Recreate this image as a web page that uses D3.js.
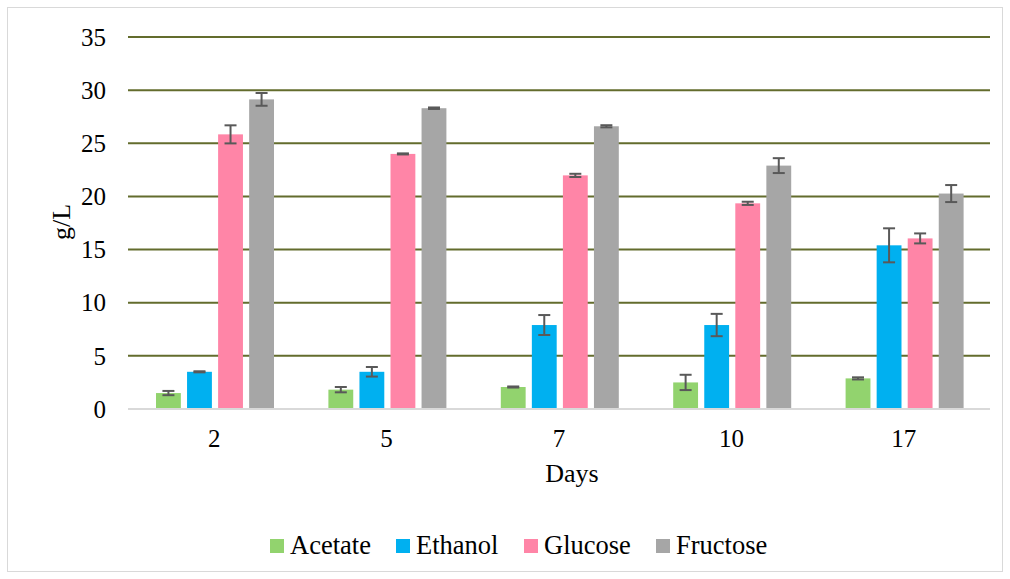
<!DOCTYPE html>
<html>
<head>
<meta charset="utf-8">
<script src="https://cdn.jsdelivr.net/npm/d3@7"></script>
<style>
  html, body { margin: 0; padding: 0; background: #fff; }
  svg { display: block; }
  text { font-family: "Liberation Serif", "Times New Roman", serif; fill: #000; }
</style>
</head>
<body>
<svg id="chart" width="1010" height="579"></svg>
<script>
const days = ["2", "5", "7", "10", "17"];
const seriesNames = ["Acetate", "Ethanol", "Glucose", "Fructose"];
const seriesColors = ["#92d36e", "#00b0f0", "#ff85a7", "#a6a6a6"];
const acetate  = [1.5, 1.82, 2.07, 2.5, 2.88];
const ethanol  = [3.5, 3.5, 7.9, 7.9, 15.4];
const glucose  = [25.84, 24.0, 21.98, 19.35, 16.05];
const fructose = [29.13, 28.3, 26.6, 22.9, 20.27];
const acetateErr  = [0.2, 0.25, 0.05, 0.72, 0.1];
const ethanolErr  = [0.05, 0.45, 0.94, 1.05, 1.6];
const glucoseErr  = [0.85, 0.05, 0.15, 0.15, 0.47];
const fructoseErr = [0.6, 0.07, 0.1, 0.7, 0.8];
const yTicks = [0, 5, 10, 15, 20, 25, 30, 35];

const values = [acetate, ethanol, glucose, fructose];
const errors = [acetateErr, ethanolErr, glucoseErr, fructoseErr];

const svg = d3.select("#chart");

// outer border
svg.append("rect").attr("x", 7.5).attr("y", 7.5).attr("width", 995).attr("height", 564)
  .attr("fill", "#fff").attr("stroke", "#d9d9d9").attr("stroke-width", 1);

const plotLeft = 128, plotRight = 990, plotTop = 37, plotBottom = 409;

const x0 = d3.scaleBand().domain(days).range([plotLeft, plotRight]).padding(0);
const x1 = d3.scaleBand().domain(seriesNames).range([28, 146]).paddingInner(0.2).paddingOuter(0);
const y = d3.scaleLinear().domain([0, 35]).range([plotBottom, plotTop]);

// gridlines
svg.append("g").selectAll("line").data(yTicks.filter(t => t > 0)).join("line")
  .attr("x1", plotLeft).attr("x2", plotRight)
  .attr("y1", d => y(d)).attr("y2", d => y(d))
  .attr("stroke", "#636c2d").attr("stroke-width", 2);

// y tick labels
svg.append("g").selectAll("text").data(yTicks).join("text")
  .attr("x", 106).attr("y", d => y(d)).attr("dy", "0.35em")
  .attr("text-anchor", "end").attr("font-size", 25).text(d => d);

// bars
const groups = svg.append("g").selectAll("g").data(days).join("g")
  .attr("transform", d => `translate(${x0(d)},0)`);

groups.each(function(day, i) {
  const g = d3.select(this);
  seriesNames.forEach((s, k) => {
    const v = values[k][i];
    g.append("rect")
      .attr("x", x1(s)).attr("width", x1.bandwidth())
      .attr("y", y(v)).attr("height", y(0) - y(v))
      .attr("fill", seriesColors[k]);
  });
  seriesNames.forEach((s, k) => {
    const v = values[k][i], e = errors[k][i];
    const cx = x1(s) + x1.bandwidth() / 2;
    const eg = g.append("g").attr("stroke", "#595959").attr("stroke-width", 2);
    eg.append("line").attr("x1", cx).attr("x2", cx).attr("y1", y(v + e)).attr("y2", y(v - e));
    eg.append("line").attr("x1", cx - 6).attr("x2", cx + 6).attr("y1", y(v + e)).attr("y2", y(v + e));
    eg.append("line").attr("x1", cx - 6).attr("x2", cx + 6).attr("y1", y(v - e)).attr("y2", y(v - e));
  });
});

// x axis line
svg.append("line").attr("x1", plotLeft).attr("x2", plotRight).attr("y1", y(0)).attr("y2", y(0))
  .attr("stroke", "#d9d9d9").attr("stroke-width", 2);

// x tick labels
svg.append("g").selectAll("text").data(days).join("text")
  .attr("x", d => x0(d) + x0.bandwidth() / 2).attr("y", 447)
  .attr("text-anchor", "middle").attr("font-size", 25).text(d => d);

// axis titles
svg.append("text").attr("x", 572).attr("y", 482).attr("text-anchor", "middle")
  .attr("font-size", 26).text("Days");
svg.append("text").attr("transform", "translate(70,222) rotate(-90)")
  .attr("text-anchor", "middle").attr("font-size", 26).text("g/L");

// legend
const legendX = [270, 396, 524, 656];
const lg = svg.append("g").selectAll("g").data(seriesNames).join("g")
  .attr("transform", (d, i) => `translate(${legendX[i]},0)`);
lg.append("rect").attr("x", 0).attr("y", 539).attr("width", 14).attr("height", 14)
  .attr("fill", (d, i) => seriesColors[i]);
lg.append("text").attr("x", 20).attr("y", 554).attr("font-size", 26.5).text(d => d);
</script>
</body>
</html>
